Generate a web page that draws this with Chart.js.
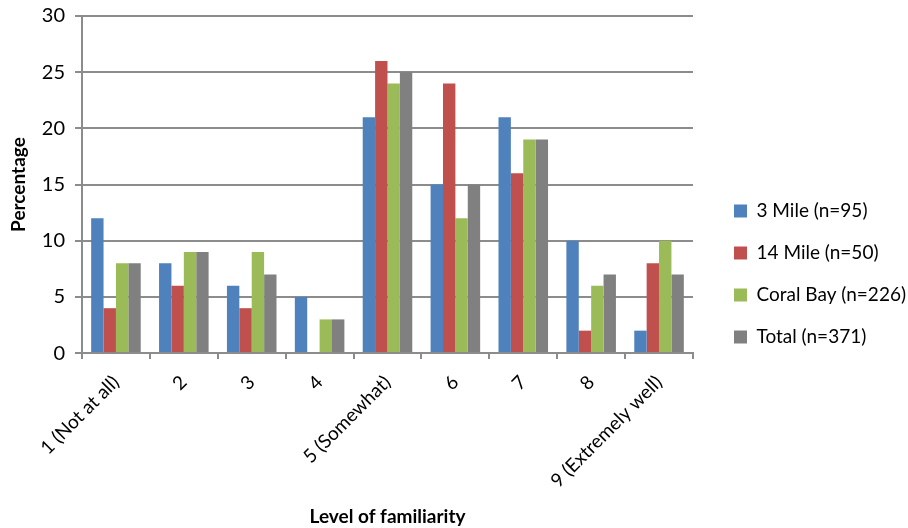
<!DOCTYPE html>
<html>
<head>
<meta charset="utf-8">
<script src="https://cdn.jsdelivr.net/npm/chart.js@4/dist/chart.umd.min.js"></script>
<style>
  html, body { margin: 0; padding: 0; background: #fff; }
  #wrap { width: 908px; height: 528px; }
</style>
</head>
<body>
<div id="wrap"><canvas id="familiarity-chart"></canvas></div>
<script>
const levels = ['1 (Not at all)', '2', '3', '4', '5 (Somewhat)', '6', '7', '8', '9 (Extremely well)'];
const threeMile = [12, 8, 6, 5, 21, 15, 21, 10, 2];
const fourteenMile = [4, 6, 4, 0, 26, 24, 16, 2, 8];
const coralBay = [8, 9, 9, 3, 24, 12, 19, 6, 10];
const total = [8, 9, 7, 3, 25, 15, 19, 7, 7];
const seriesNames = ['3 Mile (n=95)', '14 Mile (n=50)', 'Coral Bay (n=226)', 'Total (n=371)'];

function getColor(name) {
    if (name === seriesNames[0]) return '#4f81bd';
    if (name === seriesNames[1]) return '#c0504d';
    if (name === seriesNames[2]) return '#9bbb59';
    return '#808080';
}

const fontFamily = "Lato, 'Open Sans', sans-serif";
const gridGray = '#8c8c8c';
const legendGap = 18;

const seriesData = [threeMile, fourteenMile, coralBay, total];

// widen the legend on its left side so there is a bigger gap to the plot,
// and drop most of the fixed 10px the legend keeps on its right
const legendGapPlugin = {
    id: 'legendGap',
    beforeUpdate(chart) {
        const legend = chart.legend;
        if (!legend || legend._gapDone) return;
        legend._gapDone = true;
        const fit = legend.fit;
        legend.fit = function () {
            fit.call(this);
            this.width += legendGap - 8;
        };
        const draw = legend._draw;
        legend._draw = function () {
            this.left += legendGap;
            draw.call(this);
            this.left -= legendGap;
        };
    }
};

new Chart(document.querySelector('#familiarity-chart').getContext('2d'), {
    type: 'bar',
    data: {
        labels: levels,
        datasets: seriesNames.map((name, i) => ({
            label: name,
            data: seriesData[i],
            backgroundColor: getColor(name),
            borderWidth: 0
        }))
    },
    plugins: [legendGapPlugin],
    options: {
        responsive: true,
        maintainAspectRatio: false,
        animation: false,
        datasets: {
            bar: { categoryPercentage: 0.73, barPercentage: 1.0 }
        },
        layout: { padding: { top: 0, left: 7, right: 0, bottom: 0 } },
        plugins: {
            legend: {
                position: 'right',
                title: { display: true, text: '', font: { size: 10 }, padding: 4 },
                labels: {
                    boxWidth: 13,
                    boxHeight: 13,
                    padding: 23,
                    color: '#000',
                    font: { family: fontFamily, size: 19 }
                }
            },
            tooltip: { enabled: false }
        },
        scales: {
            x: {
                grid: { drawOnChartArea: false, drawTicks: true, tickLength: 6, color: gridGray, lineWidth: 2 },
                border: { color: gridGray, width: 2 },
                ticks: {
                    color: '#000',
                    minRotation: 45,
                    maxRotation: 45,
                    padding: 12,
                    font: { family: fontFamily, size: 19 }
                },
                title: {
                    display: true,
                    text: 'Level of familiarity',
                    color: '#000',
                    font: { family: fontFamily, size: 19, weight: 'bold' },
                    padding: { top: 1, bottom: 0 }
                }
            },
            y: {
                min: 0,
                max: 30,
                ticks: {
                    stepSize: 5,
                    color: '#000',
                    padding: 10,
                    font: { family: fontFamily, size: 20, lineHeight: 0.6 }
                },
                grid: { color: gridGray, lineWidth: 2, tickLength: 7 },
                border: { color: gridGray, width: 2 },
                title: {
                    display: true,
                    text: 'Percentage',
                    color: '#000',
                    font: { family: fontFamily, size: 19, weight: 'bold' },
                    padding: { top: 0, bottom: 2 }
                }
            }
        }
    }
});
</script>
</body>
</html>
